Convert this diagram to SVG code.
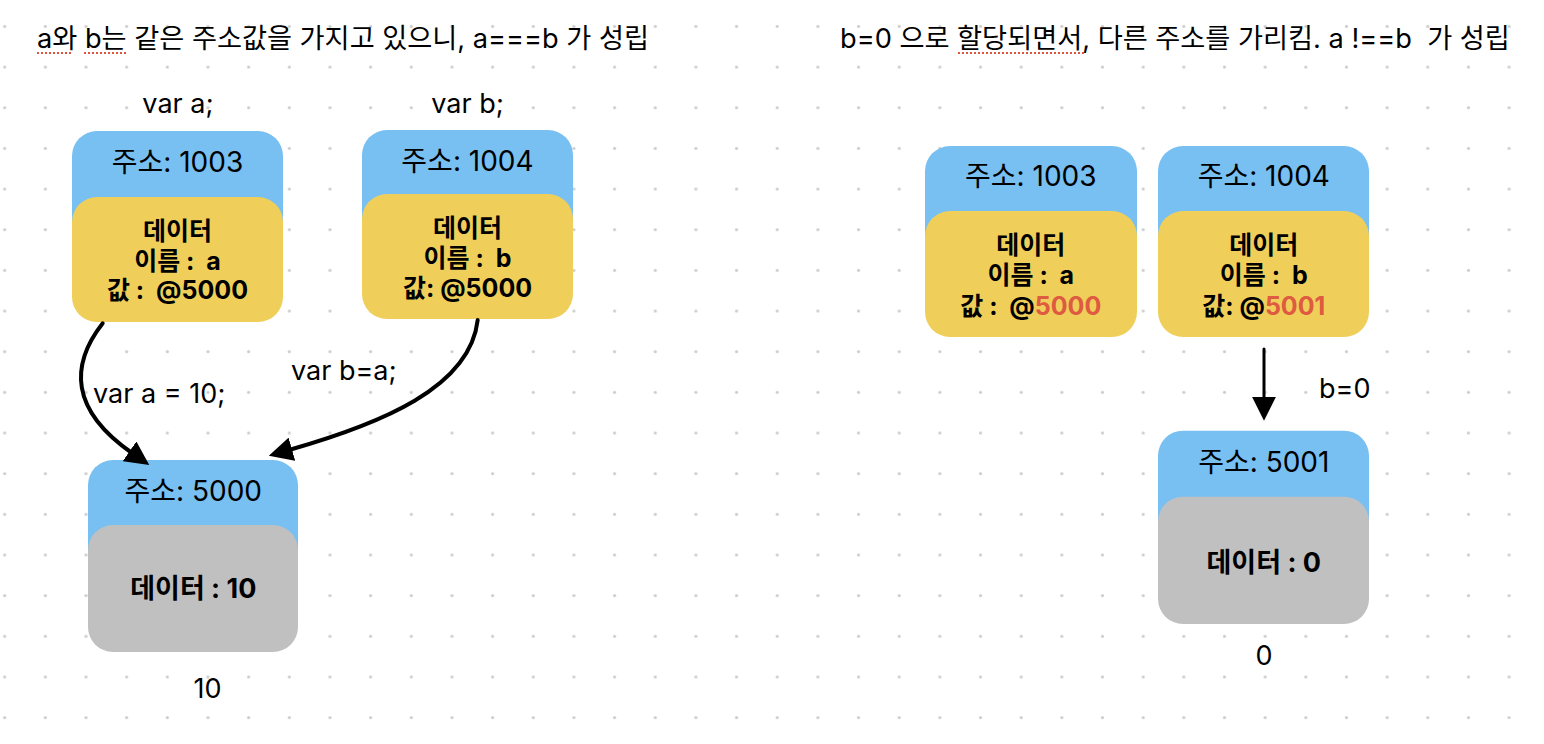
<svg xmlns="http://www.w3.org/2000/svg" width="1544" height="744" viewBox="0 0 1544 744">
  <defs>
    <pattern id="dots" patternUnits="userSpaceOnUse" x="-15.63" y="6.07" width="40.66" height="40.66">
      <circle cx="20.33" cy="20.33" r="1.6" fill="#cccccc"/>
    </pattern>
    <marker id="arrow" markerUnits="userSpaceOnUse" viewBox="0 0 24 24" markerWidth="24" markerHeight="24" refX="3" refY="12" orient="auto">
      <path d="M0,0 L24,12 L0,24 z" fill="#000"/>
    </marker>
    <style>
      text { font-family: "Inter", "Noto Sans CJK KR", sans-serif; fill: #000; white-space: pre; }
      .title { font-size: 27.2px; }
      .lbl { font-size: 27px; }
      .hdr { font-size: 28px; text-anchor: middle; }
      .body { font-size: 25px; font-weight: bold; text-anchor: middle; }
      .gbody { font-size: 27px; font-weight: bold; text-anchor: middle; }
      .mid { text-anchor: middle; }
      .red { fill: #de5a40; }
      .blue { fill: #78bff2; }
      .yellow { fill: #efcf5a; }
      .gray { fill: #c0c0c0; }
      .edge { fill: none; stroke: #000; stroke-width: 4; stroke-linecap: round; }
      .squig { stroke: #e0533c; stroke-width: 2; stroke-dasharray: 2 2; fill: none; }
    </style>
  </defs>

  <rect x="0" y="0" width="1544" height="744" fill="#fff"/>
  <rect x="0" y="0" width="1544" height="744" fill="url(#dots)"/>

  <g id="titles">
    <text class="title" x="37" y="48" xml:space="preserve">a와 b는 같은 주소값을 가지고 있으니, a===b 가 성립</text>
    <line class="squig" x1="37" y1="53" x2="72" y2="53"/>
    <line class="squig" x1="84" y1="53" x2="126" y2="53"/>
    <text class="title" x="840" y="48" xml:space="preserve">b=0 으로 할당되면서, 다른 주소를 가리킴. a !==b  가 성립</text>
    <line class="squig" x1="958" y1="53" x2="1085" y2="53"/>
  </g>

  <g id="labels">
    <text class="lbl mid" x="178" y="113">var a;</text>
    <text class="lbl mid" x="467.5" y="113">var b;</text>
    <text class="lbl" x="93" y="403">var a = 10;</text>
    <text class="lbl" x="291" y="380">var b=a;</text>
    <text class="lbl mid" x="207.5" y="698">10</text>
    <text class="lbl" x="1319" y="398">b=0</text>
    <text class="lbl mid" x="1264" y="665">0</text>
  </g>

  <g id="node-a">
    <rect class="blue" x="72" y="131" width="211" height="120" rx="25"/>
    <rect class="yellow" x="72" y="197" width="211" height="125" rx="25"/>
    <text class="hdr" x="177.5" y="171.5">주소: 1003</text>
    <text class="body" x="177.5" y="240">데이터</text>
    <text class="body" x="177.5" y="269.5" xml:space="preserve">이름 :  a</text>
    <text class="body" x="177.5" y="299.3" xml:space="preserve">값 :  @5000</text>
  </g>

  <g id="node-b">
    <rect class="blue" x="362" y="130" width="211" height="120" rx="25"/>
    <rect class="yellow" x="362" y="194" width="211" height="125" rx="25"/>
    <text class="hdr" x="467.5" y="170.5">주소: 1004</text>
    <text class="body" x="467.5" y="237.3">데이터</text>
    <text class="body" x="467.5" y="266.8" xml:space="preserve">이름 :  b</text>
    <text class="body" x="467.5" y="296.6">값: @5000</text>
  </g>

  <g id="node-5000">
    <rect class="blue" x="88" y="460" width="210" height="130" rx="25"/>
    <rect class="gray" x="88" y="525" width="210" height="127" rx="25"/>
    <text class="hdr" x="193.3" y="500.5">주소: 5000</text>
    <text class="gbody" x="193.3" y="598.3">데이터 : 10</text>
  </g>

  <g id="node-a2">
    <rect class="blue" x="925" y="146" width="212" height="120" rx="25"/>
    <rect class="yellow" x="925" y="211" width="212" height="126" rx="25"/>
    <text class="hdr" x="1030.8" y="185.7">주소: 1003</text>
    <text class="body" x="1030.8" y="254">데이터</text>
    <text class="body" x="1030.8" y="284.3" xml:space="preserve">이름 :  a</text>
    <text class="body" x="1030.8" y="314.8" xml:space="preserve">값 :  @<tspan class="red">5000</tspan></text>
  </g>

  <g id="node-b2">
    <rect class="blue" x="1158" y="146" width="211" height="120" rx="25"/>
    <rect class="yellow" x="1158" y="211" width="211" height="126" rx="25"/>
    <text class="hdr" x="1263.8" y="185.7">주소: 1004</text>
    <text class="body" x="1263.8" y="254">데이터</text>
    <text class="body" x="1263.8" y="284.3" xml:space="preserve">이름 :  b</text>
    <text class="body" x="1263.8" y="314.8">값: @<tspan class="red">5001</tspan></text>
  </g>

  <g id="node-5001">
    <rect class="blue" x="1158" y="430.7" width="211" height="130" rx="25"/>
    <rect class="gray" x="1158" y="496.7" width="211" height="127.3" rx="25"/>
    <text class="hdr" x="1263.8" y="471.7">주소: 5001</text>
    <text class="gbody" x="1263.8" y="571.7">데이터 : 0</text>
  </g>

  <g id="connectors">
    <path class="edge" d="M102.7,323.3 C70,365 70,410 132,453" marker-end="url(#arrow)"/>
    <path class="edge" d="M477.7,320 C470,388 380,424 289,450" marker-end="url(#arrow)"/>
    <path class="edge" d="M1264,349 L1264,399.7" style="stroke-width:3" marker-end="url(#arrow)"/>
  </g>
</svg>
